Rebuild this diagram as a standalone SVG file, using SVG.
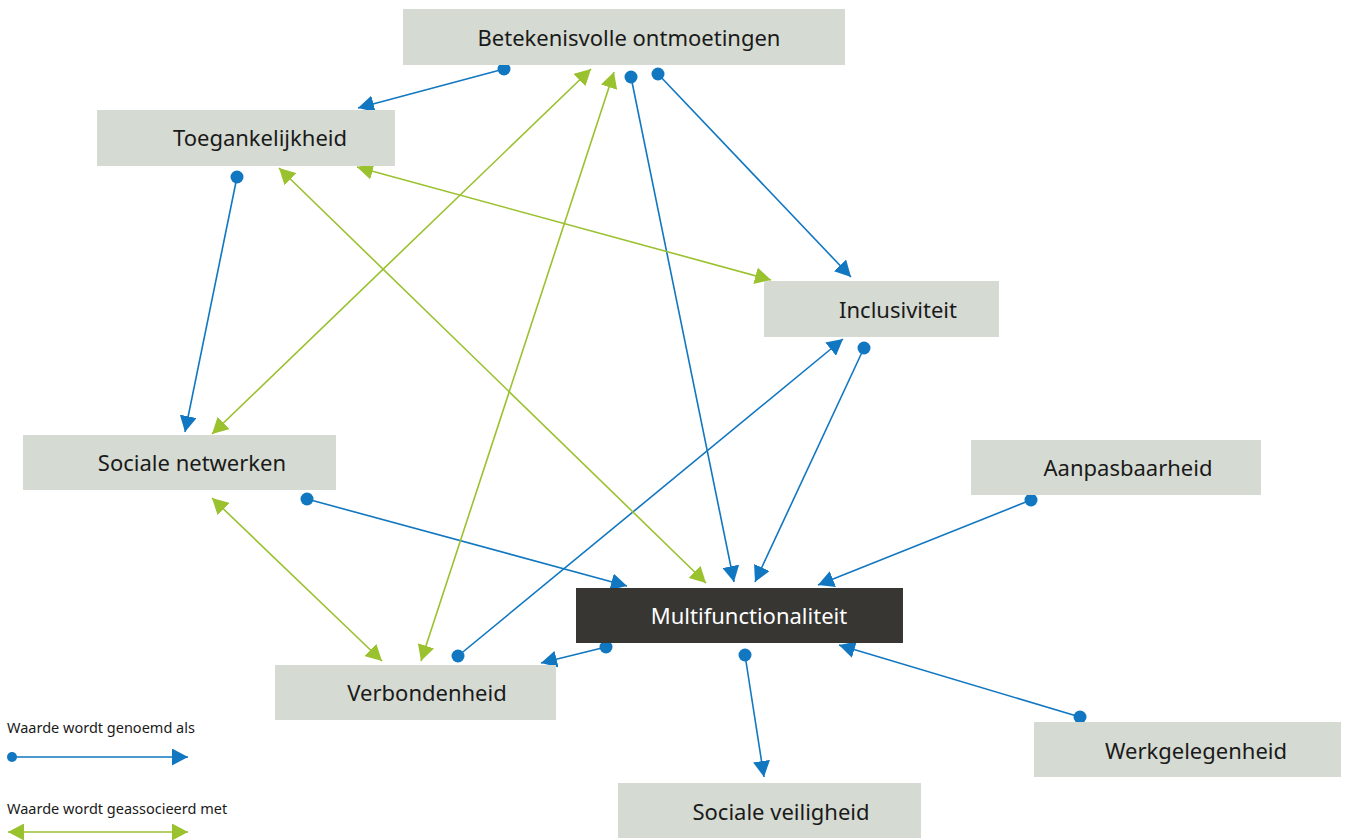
<svg xmlns="http://www.w3.org/2000/svg" width="1346" height="840" viewBox="0 0 1346 840">
<style>
.node rect{fill:#d5dad2}
.node text{font-family:"Noto Sans","Open Sans",sans-serif;font-size:22px;fill:#1a1a1a;text-anchor:middle;dominant-baseline:central}
.dark rect{fill:#383633}
.dark text{fill:#ffffff}
.b{stroke:#1177c1;stroke-width:1.6;fill:none;marker-end:url(#ab)}
.g{stroke:#9ac12e;stroke-width:1.6;fill:none;marker-end:url(#ag);marker-start:url(#ag)}
.dot{fill:#1177c1}
.leg{font-family:"Noto Sans","Open Sans",sans-serif;font-size:14.5px;fill:#1a1a1a}
</style>
<defs>
<marker id="ab" markerUnits="userSpaceOnUse" markerWidth="17" markerHeight="17" viewBox="0 0 17 17" refX="16" refY="8.5" orient="auto-start-reverse"><path d="M0,0 L16,8.5 L0,17 z" fill="#1177c1"/></marker>
<marker id="ag" markerUnits="userSpaceOnUse" markerWidth="17" markerHeight="17" viewBox="0 0 17 17" refX="16" refY="8.5" orient="auto-start-reverse"><path d="M0,0 L16,8.5 L0,17 z" fill="#9ac12e"/></marker>
</defs>
<rect width="1346" height="840" fill="#ffffff"/>
<g id="connectors">
<line class="b" x1="504" y1="69" x2="358" y2="108"/>
<line class="b" x1="631" y1="77" x2="734" y2="582"/>
<line class="b" x1="658" y1="74" x2="851" y2="277"/>
<line class="b" x1="237" y1="177" x2="185" y2="432"/>
<line class="b" x1="307" y1="499" x2="627" y2="586"/>
<line class="b" x1="458" y1="656" x2="843" y2="339"/>
<line class="b" x1="864" y1="348" x2="755" y2="582"/>
<line class="b" x1="1031" y1="500" x2="818" y2="585"/>
<line class="b" x1="606" y1="647" x2="541" y2="663"/>
<line class="b" x1="745" y1="655" x2="764" y2="777"/>
<line class="b" x1="1080" y1="717" x2="839" y2="645"/>
<line class="g" x1="591" y1="69" x2="212" y2="434"/>
<line class="g" x1="614" y1="72" x2="421" y2="661"/>
<line class="g" x1="357" y1="167" x2="771" y2="280"/>
<line class="g" x1="279" y1="168" x2="706" y2="583"/>
<line class="g" x1="212" y1="498" x2="382" y2="661"/>
<circle class="dot" cx="504" cy="69" r="6.5"/>
<circle class="dot" cx="631" cy="77" r="6.5"/>
<circle class="dot" cx="658" cy="74" r="6.5"/>
<circle class="dot" cx="237" cy="177" r="6.5"/>
<circle class="dot" cx="307" cy="499" r="6.5"/>
<circle class="dot" cx="458" cy="656" r="6.5"/>
<circle class="dot" cx="864" cy="348" r="6.5"/>
<circle class="dot" cx="1031" cy="500" r="6.5"/>
<circle class="dot" cx="606" cy="647" r="6.5"/>
<circle class="dot" cx="745" cy="655" r="6.5"/>
<circle class="dot" cx="1080" cy="717" r="6.5"/>
</g>
<g id="n-betekenisvolle" class="node"><rect x="403" y="9" width="442" height="56"/><text x="629" y="37">Betekenisvolle ontmoetingen</text></g>
<g id="n-toegankelijkheid" class="node"><rect x="97" y="110" width="298" height="56"/><text x="260" y="137">Toegankelijkheid</text></g>
<g id="n-inclusiviteit" class="node"><rect x="764" y="281" width="235" height="56"/><text x="898" y="309">Inclusiviteit</text></g>
<g id="n-sociale-netwerken" class="node"><rect x="23" y="435" width="313" height="55"/><text x="192" y="462">Sociale netwerken</text></g>
<g id="n-aanpasbaarheid" class="node"><rect x="971" y="440" width="290" height="55"/><text x="1128" y="467">Aanpasbaarheid</text></g>
<g id="n-multifunctionaliteit" class="node dark"><rect x="576" y="588" width="327" height="55"/><text x="749" y="615">Multifunctionaliteit</text></g>
<g id="n-verbondenheid" class="node"><rect x="275" y="665" width="281" height="55"/><text x="427" y="692">Verbondenheid</text></g>
<g id="n-werkgelegenheid" class="node"><rect x="1034" y="722" width="307" height="55"/><text x="1196" y="750">Werkgelegenheid</text></g>
<g id="n-sociale-veiligheid" class="node"><rect x="618" y="783" width="303" height="55"/><text x="781" y="811">Sociale veiligheid</text></g>
<g id="legend">
<text class="leg" x="7" y="733">Waarde wordt genoemd als</text>
<line class="b" x1="12" y1="757" x2="188" y2="757"/>
<circle class="dot" cx="12" cy="757" r="5"/>
<text class="leg" x="7" y="814">Waarde wordt geassocieerd met</text>
<line class="g" x1="8" y1="832" x2="188" y2="832"/>
</g>
</svg>
